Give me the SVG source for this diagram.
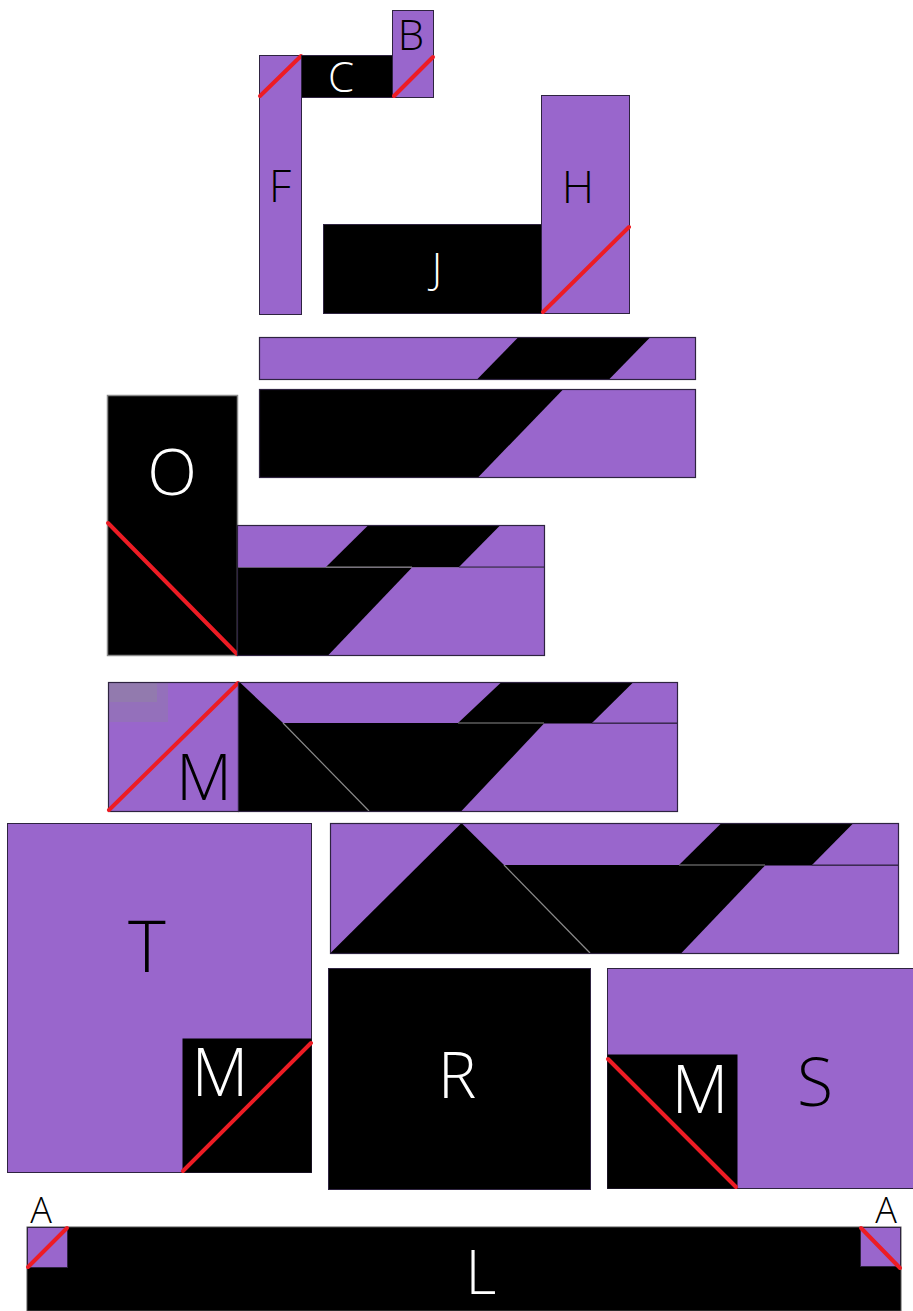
<svg xmlns="http://www.w3.org/2000/svg" width="913" height="1311" viewBox="0 0 913 1311">
<style>
.p{fill:#9966cc;stroke:#2e2340;stroke-width:1}
.pf{fill:#9966cc}
.k{fill:#000;stroke:#2e2340;stroke-width:1}
.kf{fill:#000}
.r{stroke:#ed1c24;stroke-width:4;stroke-linecap:round;fill:none}
.g{stroke:#8a8a8a;stroke-width:1.2;fill:none}
.ol{fill:none;stroke:#2e2340;stroke-width:1.2}
.t{font-family:"Open Sans","DejaVu Sans",sans-serif;font-weight:300;text-anchor:middle}
.w{fill:#fff}
.b{fill:#000}
</style>
<rect width="913" height="1311" fill="#fff"/>
<g id="F"><rect class="p" x="259.5" y="55.5" width="42" height="259"/><line class="r" x1="260" y1="96" x2="301" y2="56"/><text class="t b" x="280" y="202" font-size="44">F</text></g>
<g id="C"><rect class="k" x="301.5" y="55.5" width="91" height="42"/><text class="t w" x="341" y="92" font-size="42">C</text></g>
<g id="B"><rect class="p" x="392.5" y="10.5" width="41" height="87"/><line class="r" x1="394" y1="96" x2="433" y2="57"/><text class="t b" x="411" y="50" font-size="42">B</text></g>
<g id="J"><rect class="k" x="323.5" y="224.5" width="218" height="89"/><text class="t w" x="437" y="283" font-size="42">J</text></g>
<g id="H"><rect class="p" x="541.5" y="95.5" width="88" height="218"/><line class="r" x1="543" y1="312" x2="629" y2="227"/><text class="t b" x="578" y="203" font-size="45">H</text></g>
<g id="bar1"><rect class="pf" x="259.5" y="337.5" width="436" height="42"/><polygon class="kf" points="518,337.5 650,337.5 609,379.5 477,379.5"/><rect class="ol" x="259.5" y="337.5" width="436" height="42"/></g>
<g id="bar2"><rect class="kf" x="259.5" y="389.5" width="436" height="88"/><polygon class="pf" points="563,389.5 695.5,389.5 695.5,477.5 478,477.5"/><rect class="ol" x="259.5" y="389.5" width="436" height="88"/></g>
<g id="O"><rect x="107.5" y="395.5" width="130" height="260" fill="#000" stroke="#8a8a8a" stroke-width="1.5"/><line class="r" x1="108" y1="523" x2="237" y2="654"/><text class="t w" x="172" y="495" font-size="65">O</text></g>
<g id="block3"><rect class="pf" x="237.5" y="525.5" width="307" height="42"/><polygon class="kf" points="368,525.5 500,525.5 459,567 326,567"/><rect class="kf" x="237.5" y="567.5" width="307" height="88"/><polygon class="pf" points="412,567.5 544.5,567.5 544.5,655.5 328,655.5"/><line class="g" x1="326" y1="567" x2="412" y2="567"/><line x1="459" y1="567" x2="544.5" y2="567" stroke="#2e2340" stroke-width="1.2"/><rect class="ol" x="237.5" y="525.5" width="307" height="130"/></g>
<g id="M1"><rect class="pf" x="108.5" y="682.5" width="130" height="129"/><rect x="109" y="683" width="59" height="39" fill="#9470bb"/><rect x="109" y="683" width="48" height="19" fill="#927aae"/><rect class="ol" x="108.5" y="682.5" width="130" height="129"/><line class="r" x1="109" y1="810" x2="238" y2="683"/><text class="t b" x="204" y="800" font-size="65">M</text></g>
<g id="block4"><rect class="kf" x="238.5" y="682.5" width="439" height="129"/><polygon class="pf" points="240,682.5 501,682.5 458,723 283,723"/><polygon class="pf" points="633,682.5 677.5,682.5 677.5,723 592,723"/><polygon class="pf" points="544,723.5 677.5,723.5 677.5,811.5 461,811.5"/><line class="g" x1="458" y1="723" x2="544" y2="723"/><line class="g" x1="283" y1="723" x2="369" y2="811"/><line x1="592" y1="723" x2="677.5" y2="723" stroke="#2e2340" stroke-width="1.2"/><rect class="ol" x="238.5" y="682.5" width="439" height="129"/></g>
<g id="block5"><rect class="kf" x="330.5" y="823.5" width="568" height="130"/><polygon class="pf" points="330.5,823.5 461,823.5 330.5,953"/><polygon class="pf" points="462,823.5 721,823.5 679,865 504,865"/><polygon class="pf" points="853,823.5 898.5,823.5 898.5,865 812,865"/><polygon class="pf" points="765,865.5 898.5,865.5 898.5,953.5 681,953.5"/><line class="g" x1="679" y1="865" x2="765" y2="865"/><line class="g" x1="504" y1="865" x2="590" y2="953"/><line x1="812" y1="865" x2="898.5" y2="865" stroke="#2e2340" stroke-width="1.2"/><rect class="ol" x="330.5" y="823.5" width="568" height="130"/></g>
<g id="T"><rect class="p" x="7.5" y="823.5" width="304" height="349"/><rect class="kf" x="182.5" y="1038.5" width="129" height="134"/><line class="r" x1="183" y1="1171" x2="311" y2="1043"/><text class="t b" x="147" y="972" font-size="72">T</text><text class="t w" x="220" y="1096" font-size="66">M</text></g>
<g id="R"><rect class="k" x="328.5" y="968.5" width="262" height="221"/><text class="t w" x="457" y="1098" font-size="65">R</text></g>
<g id="S"><rect class="p" x="607.5" y="968.5" width="306" height="220"/><rect class="kf" x="607.5" y="1054.5" width="130" height="134"/><line class="r" x1="608" y1="1059" x2="736" y2="1187"/><text class="t w" x="700" y="1113" font-size="66">M</text><text class="t b" x="815" y="1106" font-size="66">S</text></g>
<g id="L"><rect class="kf" x="27" y="1227" width="874" height="84"/><rect x="27" y="1227" width="874" height="84" fill="none" stroke="#555" stroke-width="1"/><text class="t w" x="481" y="1294" font-size="60">L</text></g>
<g id="A1"><rect class="p" x="27.5" y="1227.5" width="40" height="40"/><line class="r" x1="28" y1="1267" x2="67" y2="1228"/><text class="t b" x="41" y="1223" font-size="36">A</text></g>
<g id="A2"><rect class="p" x="860.5" y="1227.5" width="40" height="39"/><line class="r" x1="861" y1="1228" x2="900" y2="1268"/><text class="t b" x="886" y="1223" font-size="36">A</text></g>
</svg>
